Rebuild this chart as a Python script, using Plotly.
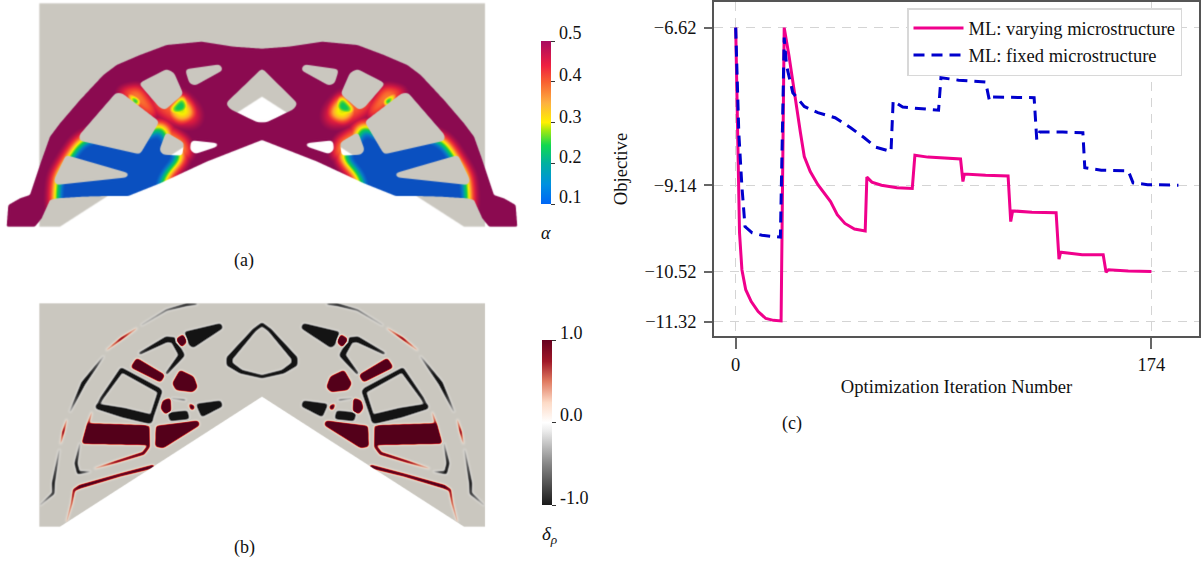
import numpy as np
import plotly.graph_objects as go

# ---------- panel (c) line data ----------
varying_iter = [0,1,1.6,2.6,4.2,6.5,9.4,12.6,15.8,19,20.3,22.3,24.7,27.1,28.7,31.2,34.4,39.7,42.5,45.7,49.7,54.2,54.9,57,61,67.5,73.9,75,80.4,88.5,94.1,95.1,95.7,104.6,114,115.1,115.9,124,134.1,135.3,136,145,153.8,155,156,164.3,174]
varying_obj = [-6.62,-8.84,-9.9,-10.49,-10.81,-11.0,-11.16,-11.27,-11.30,-11.31,-6.62,-7.07,-7.71,-8.30,-8.68,-8.92,-9.13,-9.40,-9.61,-9.75,-9.84,-9.87,-9.01,-9.09,-9.14,-9.18,-9.19,-8.66,-8.69,-8.71,-8.72,-9.08,-8.96,-8.98,-8.99,-9.72,-9.55,-9.57,-9.58,-10.32,-10.21,-10.25,-10.25,-10.53,-10.49,-10.51,-10.52]
fixed_iter = [0,1.3,2.6,3.9,6.9,11,18.7,20.3,21.3,23.9,28.7,34.4,41.6,48.1,53.8,58.6,65,65.9,69.9,77.2,84.9,85.9,93.3,104.6,106.2,107.3,115.9,124.9,126,127.2,136.9,145.3,146.1,153,164.3,166.3,172.4,185.3]
fixed_obj = [-6.62,-8.30,-9.16,-9.80,-9.90,-9.94,-9.97,-6.78,-7.23,-7.66,-7.88,-7.98,-8.06,-8.22,-8.38,-8.53,-8.60,-7.79,-7.89,-7.92,-7.94,-7.42,-7.46,-7.49,-7.79,-7.73,-7.74,-7.74,-8.41,-8.29,-8.29,-8.30,-8.86,-8.90,-8.91,-9.10,-9.13,-9.14]
y_ticks = [-6.62,-9.14,-10.52,-11.32]
y_tick_labels = ["−6.62","−9.14","−10.52","−11.32"]
x_ticks = [0,174]
alpha_ticks = [0.1,0.2,0.3,0.4,0.5]
delta_ticks = [-1.0,0.0,1.0]

# ---------- panel outlines (left half, traced at 3x, mirrored about the notch) ----------
domain_outline = [(118,10),(1455,10),(1455,680),(1392,680),(786,290),(180,680),(118,680)]
solid_outline = [(20,680),(25,615),(60,595),(90,585),(100,555),(125,480),(150,410),(180,370),(240,300),(310,225),(350,195),(420,165),(500,135),(605,125),(700,140),(786,146),
                 (867,140),(967,125),(1072,135),(1152,165),(1222,195),(1262,225),(1332,300),(1392,370),(1422,410),(1447,480),(1472,555),(1482,585),(1512,595),(1547,615),(1552,680),
                 (1467,680),(1447,655),(1422,600),(1402,595),(1322,590),(1252,588),(1187,588),(1092,550),(952,485),(786,420),(620,485),(480,550),(385,588),(320,588),(250,590),(170,595),(150,600),(125,655),(105,680)]
holes = [
 [(555,208),(660,193),(670,210),(585,257),(568,250)],
 [(416,250),(500,207),(522,218),(550,282),(495,330),(478,322)],
 [(348,278),(367,280),(478,365),(420,463),(238,422),(238,405)],
 [(498,396),(552,428),(547,467),(488,464),(478,450)],
 [(198,465),(388,520),(382,532),(168,555),(162,540)],
 [(573,421),(658,430),(652,440),(585,462),(570,450)],
]
center_hole = [(786,205),(893,310),(882,327),(800,367),(772,367),(690,327),(677,310)]
blue_zones = [
 [(250,418),(320,395),(440,405),(468,372),(510,385),(498,400),(505,425),(540,448),(552,468),(530,495),(505,520),(488,555),(500,640),(380,660),(172,660),(165,600),(170,530),(210,465),(235,428)],
]
warm_zones = [  # (strength, blur, polygon)
 (0.64,3.0,[(505,328),(548,282),(568,318),(556,340),(520,345)]),
 (0.50,5.0,[(498,335),(545,280),(578,320),(588,350),(540,370)]),
 (0.60,3.0,[(375,272),(425,305),(408,322)]),
 (0.28,6.5,[(430,290),(470,335),(520,368),(595,372),(592,330),(545,280)]),
 (0.30,5.0,[(350,272),(420,258),(470,330),(465,362)]),
 (0.32,5.0,[(470,378),(510,385),(560,420),(575,470),(545,480)]),
]
red_polys = [
 [(527,148),(550,132),(562,155),(545,172),(524,155)],
 [(410,204),(495,255),(482,277),(392,232)],
 [(540,240),(581,260),(593,292),(578,306),(528,300),(517,280)],
 [(488,332),(512,323),(513,367),(495,372),(482,355)],
 [(563,337),(587,350),(575,364)],
 [(262,400),(443,406),(449,465),(245,461)],
 [(468,408),(594,392),(600,405),(490,474),(466,470)],
]
black_polys = [
 [(553,126),(662,100),(669,114),(580,173),(568,166)],
 [(588,342),(662,332),(668,349),(605,381)],
 [(503,368),(562,362),(568,387),(510,393)],
]
red_strokes = [
 [(445,410,3),(445,470,4),(430,490,4),(350,515,3),(285,535,1)],
 [(458,530,5),(360,555,4),(240,590,5),(222,600,3),(215,640,2),(200,695,1)],
 [(200,390,1),(190,425,3),(182,460,1)],
 [(320,180,1),(365,145,3),(410,115,1)],
 [(275,368,1),(262,410,3)],
]
black_strokes = [
 [(787,103,4),(810,120,4),(885,205,7),(885,222,7),(850,245,5),(787,260,4),(724,245,5),(690,222,7),(690,205,7),(764,120,4),(787,103,4)],
 [(420,190,3),(500,148,8),(520,150,8),(545,195,8),(500,250,3)],
 [(365,240,6),(475,300,7),(480,305,6),(450,395,5)],
 [(365,240,6),(305,325,4),(292,350,3)],
 [(295,350,8),(370,368,14),(445,386,14)],
 [(515,325,1),(555,330,2)],
 [(240,460,1),(228,520,4),(235,548,4),(270,545,1)],
 [(120,645,1),(160,610,3),(160,580,4),(178,480,1)],
 [(210,365,1),(250,280,6),(310,200,1)],
 [(425,105,1),(500,60,2),(560,44,3.5),(590,42,2)],
]

W, H = 530, 232
MID = 786
TRACE_SHIFT_B = -30

def mirrored(poly):
    return [(2*MID-p[0],)+tuple(p[1:]) for p in poly]

def moved(poly):
    return [(p[0],p[1]+TRACE_SHIFT_B)+tuple(p[2:]) for p in poly]

def fill(poly, S=3):
    p = np.array(poly, float)*S/3
    x, y = p[:,0], p[:,1]
    x2, y2 = np.roll(x,-1), np.roll(y,-1)
    m = np.zeros((H*S, W*S), bool)
    for r in range(H*S):
        yc = r+.5
        c = ((y<=yc)&(y2>yc))|((y2<=yc)&(y>yc))
        if not c.any():
            continue
        xs = np.sort(x[c]+(yc-y[c])/(y2[c]-y[c])*(x2[c]-x[c]))
        for a,b in zip(xs[::2], xs[1::2]):
            m[r, max(int(np.ceil(a-.5)),0):max(int(np.ceil(b-.5)),0)] = True
    return m.reshape(H,S,W,S).mean(axis=(1,3))

def blur(a, s):
    fy = np.fft.fftfreq(a.shape[0])[:,None]
    fx = np.fft.rfftfreq(a.shape[1])[None,:]
    return np.fft.irfft2(np.fft.rfft2(a)*np.exp(-2*(np.pi*s)**2*(fx**2+fy**2)), s=a.shape)

def rounded(a, s):
    return np.clip((blur(a,s)-0.5)*s*2.5+0.5, 0, 1)

def stroke(pts):
    yy, xx = np.mgrid[0:H,0:W]+0.5
    out = np.zeros((H,W))
    for (x1,y1,w1),(x2,y2,w2) in zip(pts[:-1],pts[1:]):
        x1,y1,x2,y2,w1,w2 = x1/3,y1/3,x2/3,y2/3,w1/3,w2/3
        dx,dy = x2-x1,y2-y1
        t = np.clip(((xx-x1)*dx+(yy-y1)*dy)/(dx*dx+dy*dy+1e-9),0,1)
        d = np.hypot(xx-x1-t*dx, yy-y1-t*dy)
        out = np.maximum(out, np.clip((w1+(w2-w1)*t)-d+.5,0,1))
    return out

def interp_colors(stops, v):
    pos = [s[0] for s in stops]
    return np.stack([np.interp(v,pos,[s[1][i] for s in stops]) for i in range(3)],-1)

def hexrgb(h):
    return tuple(int(h[i:i+2],16) for i in (1,3,5))

alpha_scale = [(0,"#0a50c0"),(0.04,"#0a50c0"),(0.14,"#0878c8"),(0.25,"#00b08c"),(0.35,"#10c850"),(0.45,"#a8e010"),(0.5,"#f8f000"),(0.62,"#fda82e"),(0.75,"#f54830"),(0.85,"#d81a40"),(0.97,"#8b0a50"),(1,"#8b0a50")]
alpha_bar = [[0,"#0066f5"],[0.12,"#0090e0"],[0.25,"#00b0a0"],[0.36,"#10d850"],[0.45,"#a0e810"],[0.5,"#fff000"],[0.62,"#fdb040"],[0.75,"#f86030"],[0.85,"#ee2040"],[1,"#a80a60"]]
delta_scale = [(0,"#141414"),(0.25,"#878787"),(0.45,"#ececec"),(0.5,"#ffffff"),(0.62,"#fddbc7"),(0.75,"#e07a60"),(0.87,"#a01828"),(1,"#54001a")]
delta_bar = [[0,"#1a1a1a"],[0.25,"#878787"],[0.45,"#ececec"],[0.5,"#ffffff"],[0.62,"#fddbc7"],[0.75,"#e07a60"],[0.87,"#a01828"],[1,"#67001f"]]
GREY = np.array(hexrgb("#cac7bf"),float)
WHITE = np.array([255.,255.,255.])

dom = rounded(fill(domain_outline),0.4)
base = WHITE+(GREY-WHITE)*dom[...,None]

# panel (a)
solid = rounded(fill(solid_outline),0.9)
hole_all = fill(center_hole)
for h in holes:
    hole_all = np.maximum(hole_all, np.maximum(fill(h),fill(mirrored(h))))
hole_all = rounded(hole_all,2.0)
solid = solid*(1-hole_all)
t = np.zeros((H,W))
for b in blue_zones:
    t = np.maximum(t, blur(np.maximum(fill(b),fill(mirrored(b))),6.5))
for k,s,p in warm_zones:
    t = np.maximum(t, k*blur(np.maximum(fill(p),fill(mirrored(p))),s)/max(blur(fill(p),s).max(),.01))
t = np.clip(t*1.05,0,1)
col = interp_colors([(a,hexrgb(c)) for a,c in alpha_scale],1-t)
img_a = base+(col-base)*solid[...,None]
img_a = np.stack([blur(img_a[...,i],0.5) for i in range(3)],-1)

# panel (b)
r = np.zeros((H,W)); k = np.zeros((H,W))
for p in red_polys:
    p = moved(p)
    r = np.maximum(r, np.maximum(fill(p),fill(mirrored(p))))
for p in black_polys:
    p = moved(p)
    k = np.maximum(k, np.maximum(fill(p),fill(mirrored(p))))
r = rounded(r,1.2); k = rounded(k,1.0)
for p in red_strokes:
    p = moved(p)
    r = np.maximum(r, np.maximum(stroke(p),stroke(mirrored(p))))
for p in black_strokes:
    p = moved(p)
    k = np.maximum(k, np.maximum(stroke(p),stroke(mirrored(p))))
v = np.clip(1.3*(blur(r,1.2)-blur(k,1.2)),-1,1)
colb = interp_colors([(a,hexrgb(c)) for a,c in delta_scale],(v+1)/2)
op = (np.clip(np.abs(v)/0.6,0,1)*dom)[...,None]
img_b = base+(colb-base)*op

def to_uint(a):
    return np.clip(a,0,255).round().astype(np.uint8).tolist()

# ---------- figure ----------
FW, FH = 1204, 565
SERIF = "Liberation Serif, Times New Roman, serif"
TXT = "#111111"
fig = go.Figure()
fig.add_trace(go.Scatter(x=varying_iter,y=varying_obj,mode="lines",name="ML: varying microstructure",
                         line=dict(color="#f0008c",width=3)))
fig.add_trace(go.Scatter(x=fixed_iter,y=fixed_obj,mode="lines",name="ML: fixed microstructure",
                         line=dict(color="#0000cd",width=3,dash="11px,7px")))
fig.add_trace(go.Image(z=to_uint(img_a),x0=0.5,y0=0.5,dx=1,dy=1,xaxis="x2",yaxis="y2",hoverinfo="skip",colormodel="rgb"))
fig.add_trace(go.Image(z=to_uint(img_b),x0=0.5,y0=0.5,dx=1,dy=1,xaxis="x3",yaxis="y3",hoverinfo="skip",colormodel="rgb"))

def cbar(ytop,ybot,vals,xleft):
    return dict(x=xleft/FW,xanchor="left",xpad=0,ypad=0,y=1-ybot/FH,yanchor="bottom",yref="paper",xref="paper",
                lenmode="pixels",len=ybot-ytop,thicknessmode="pixels",thickness=10,outlinewidth=0,
                tickmode="array",tickvals=vals,ticks="outside",ticklen=4,tickwidth=1,tickcolor="#333333",
                showticklabels=False)

off_view = [-60,-50]
fig.add_trace(go.Heatmap(z=[[0.1,0.5],[0.1,0.5]],x=off_view,y=off_view,zmin=0.1,zmax=0.5,colorscale=alpha_bar,xaxis="x2",yaxis="y2",
                         colorbar=cbar(41,204,alpha_ticks,541),hoverinfo="skip"))
fig.add_trace(go.Heatmap(z=[[-1,1],[-1,1]],x=off_view,y=off_view,zmin=-1,zmax=1,colorscale=delta_bar,xaxis="x3",yaxis="y3",
                         colorbar=cbar(340,505,delta_ticks,542),hoverinfo="skip"))

px2x = lambda a,b:[a/FW,b/FW]
px2y = lambda top,bot:[1-bot/FH,1-top/FH]
hidden = dict(visible=False,fixedrange=True)
fig.update_layout(
    width=FW,height=FH,margin=dict(l=0,r=0,t=0,b=0),autosize=False,
    paper_bgcolor="white",plot_bgcolor="rgba(0,0,0,0)",
    font=dict(family=SERIF,size=17,color=TXT),
    xaxis=dict(domain=px2x(714,1199),range=[-9.08,193.9],tickvals=x_ticks,ticktext=[str(t) for t in x_ticks],
               ticks="outside",ticklen=11,tickwidth=1.5,tickcolor="#666666",showline=True,linecolor="#555555",linewidth=1.5,mirror=True,
               showgrid=True,griddash="9px,7px",gridcolor="#d4d4d4",gridwidth=1.2,zeroline=False,tickfont=dict(size=18.5),
               title=dict(text="Optimization Iteration Number",font=dict(size=18.6),standoff=6)),
    yaxis=dict(domain=px2y(2,336),range=[-11.55,-6.21],tickvals=y_ticks,ticktext=y_tick_labels,
               ticks="outside",ticklen=8,tickwidth=1.5,tickcolor="#666666",showline=True,linecolor="#555555",linewidth=1.5,mirror=True,
               showgrid=True,griddash="9px,7px",gridcolor="#d4d4d4",gridwidth=1.2,zeroline=False,tickfont=dict(size=18.5),ticklabelstandoff=4,
               title=dict(text="Objective",font=dict(size=18.6),standoff=12)),
    xaxis2=dict(domain=px2x(0,W),range=[0,W],anchor="y2",**hidden),
    yaxis2=dict(domain=px2y(0,H),range=[H,0],anchor="x2",**hidden),
    xaxis3=dict(domain=px2x(0,W),range=[0,W],anchor="y3",**hidden),
    yaxis3=dict(domain=px2y(300,300+H),range=[H,0],anchor="x3",**hidden),
    legend=dict(x=907/FW,y=1-8/FH,xanchor="left",yanchor="top",bgcolor="white",bordercolor="#d8d8d8",borderwidth=1.5,
                font=dict(size=18.5),itemwidth=50,tracegroupgap=0),
    showlegend=True,
)
def label(text,x,y,size=17,**kw):
    fig.add_annotation(text=text,x=x/FW,y=1-y/FH,xref="paper",yref="paper",showarrow=False,font=dict(size=size),
                       xanchor=kw.get("xanchor","center"),yanchor="middle")
for tv,yy in zip(alpha_ticks,[197,157,117,75,33]):
    label(f"{tv:.1f}",557,yy,18,xanchor="left")
for tv,yy in zip(delta_ticks,[498,415,333]):
    label(f"{tv:.1f}",558,yy,18,xanchor="left")
label("<i>α</i>",546,233,18)
label("<i>δ<sub>ρ</sub></i>",549,535,19)
label("(a)",244,260,18)
label("(b)",244,547,18)
label("(c)",792,423,18)
fig.write_html("out.html",config=dict(displayModeBar=False),post_script="document.body.style.margin='0';document.body.style.overflow='hidden';")
